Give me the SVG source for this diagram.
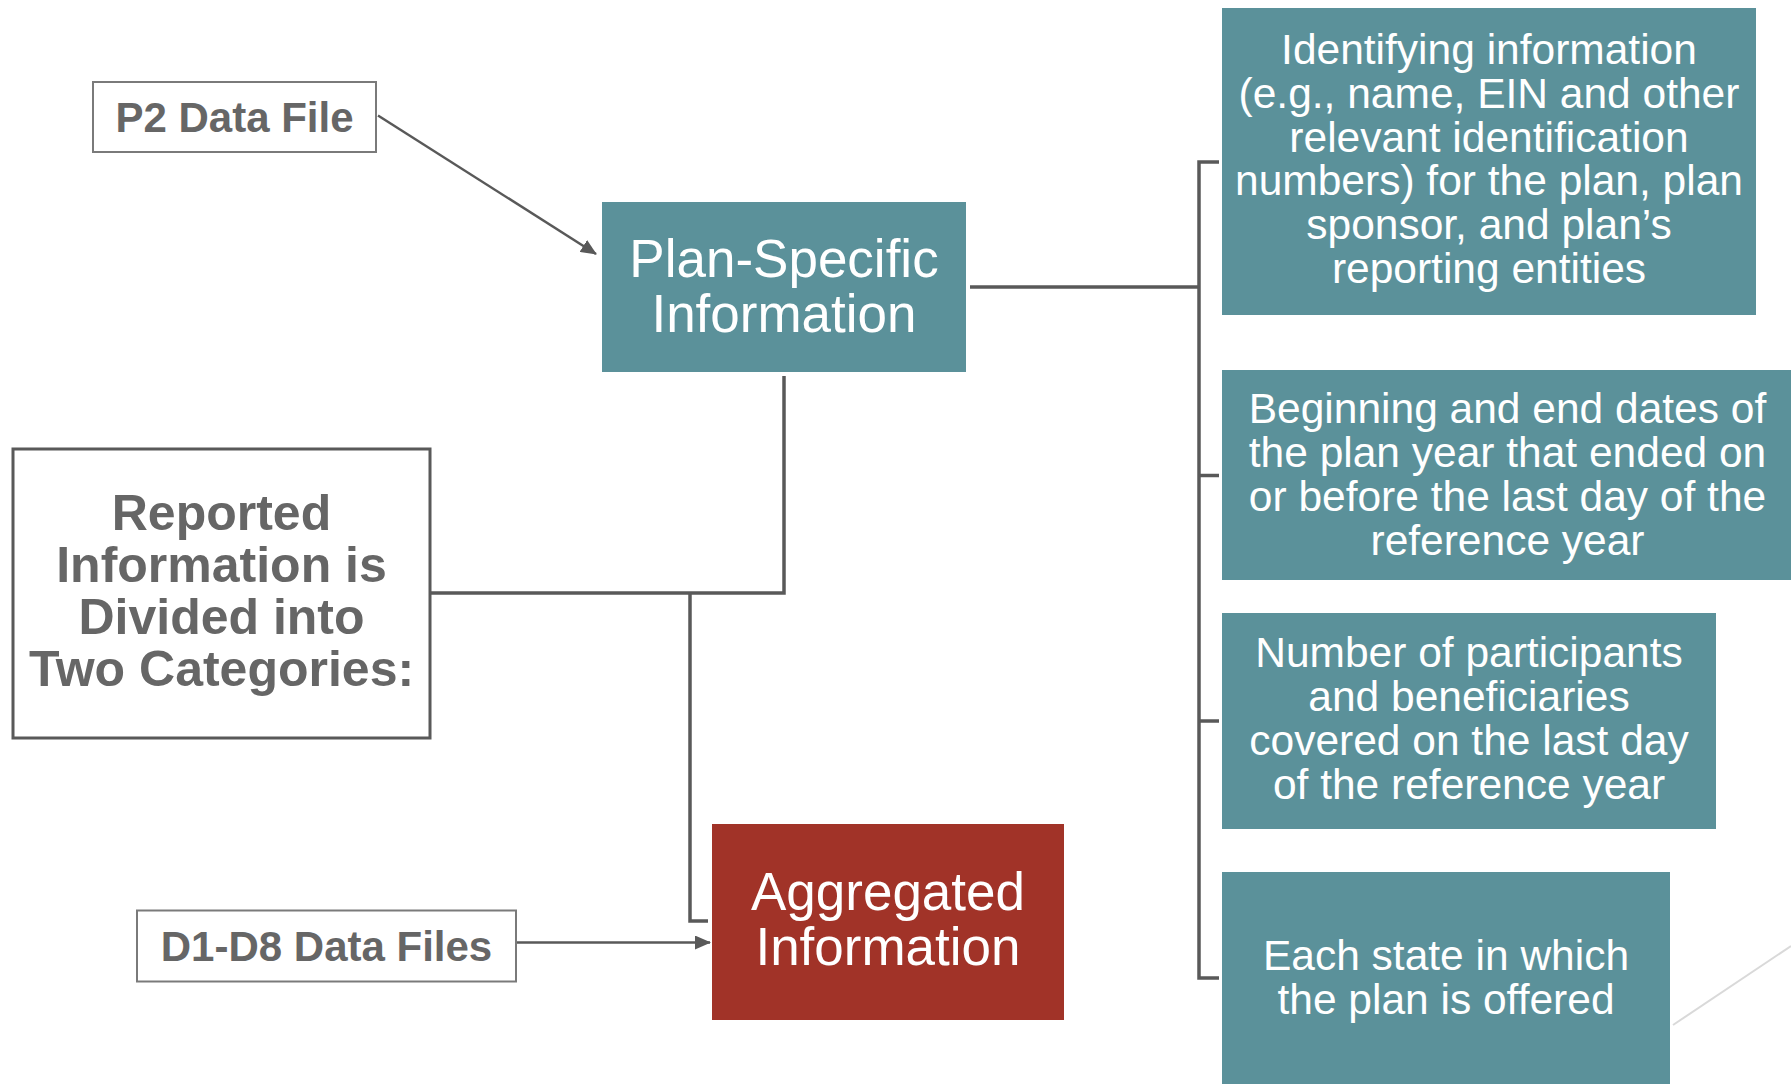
<svg xmlns="http://www.w3.org/2000/svg" width="1791" height="1084" viewBox="0 0 1791 1084">
<style>
  .teal { fill: #5B919A; }
  .red { fill: #A13328; }
  .frame { fill: #ffffff; stroke: #7a7a7a; stroke-width: 2; }
  .frame2 { fill: #ffffff; stroke: #595959; stroke-width: 3; }
  .conn { fill: none; stroke: #595959; stroke-width: 3.5; }
  .arrow { fill: none; stroke: #595959; stroke-width: 2.5; }
  .wt { font-family: "Liberation Sans", Arial, sans-serif; fill: #ffffff; text-anchor: middle; }
  .gt { font-family: "Liberation Sans", Arial, sans-serif; fill: #666666; font-weight: bold; text-anchor: middle; }
  .big { font-size: 53px; }
  .mid { font-size: 42.5px; }
</style>
<defs>
  <marker id="ah" markerUnits="userSpaceOnUse" markerWidth="16" markerHeight="14" refX="15" refY="7" orient="auto">
    <path d="M0,0 L16,7 L0,14 z" fill="#595959"/>
  </marker>
</defs>
<rect width="1791" height="1084" fill="#ffffff"/>

<g id="connectors">
  <line class="arrow" x1="378" y1="115.5" x2="596" y2="254" marker-end="url(#ah)"/>
  <line class="arrow" x1="517" y1="942.5" x2="710" y2="942.5" marker-end="url(#ah)"/>
  <path class="conn" d="M430,593 H784 V376"/>
  <path class="conn" d="M690,593 V921 H708"/>
  <path class="conn" d="M970,287 H1199"/>
  <path class="conn" d="M1219,162 H1199 V978 H1219"/>
  <path class="conn" d="M1199,475.5 H1219"/>
  <path class="conn" d="M1199,721 H1219"/>
  <line x1="1673" y1="1025" x2="1791" y2="946" stroke="#d9d9d9" stroke-width="2"/>
</g>

<g id="p2-data-file">
  <rect class="frame" x="93" y="82" width="283" height="70"/>
  <text class="gt" x="234.5" y="132" font-size="42">P2 Data File</text>
</g>

<g id="plan-specific">
  <rect class="teal" x="602" y="202" width="364" height="170"/>
  <text class="wt big" x="784" y="277">Plan-Specific</text>
  <text class="wt big" x="784" y="332">Information</text>
</g>

<g id="reported">
  <rect class="frame2" x="13" y="449" width="417" height="289"/>
  <text class="gt" x="221.5" y="530" font-size="50">Reported</text>
  <text class="gt" x="221.5" y="582" font-size="50">Information is</text>
  <text class="gt" x="221.5" y="634" font-size="50">Divided into</text>
  <text class="gt" x="221.5" y="686" font-size="50">Two Categories:</text>
</g>

<g id="d1-d8-data-files">
  <rect class="frame" x="137" y="910.5" width="379" height="71"/>
  <text class="gt" x="326.5" y="961" font-size="42">D1-D8 Data Files</text>
</g>

<g id="aggregated">
  <rect class="red" x="712" y="824" width="352" height="196"/>
  <text class="wt big" x="888" y="910">Aggregated</text>
  <text class="wt big" x="888" y="965">Information</text>
</g>

<g id="identifying">
  <rect class="teal" x="1222" y="8" width="534" height="307"/>
  <text class="wt mid" x="1489" y="64">Identifying information</text>
  <text class="wt mid" x="1489" y="108">(e.g., name, EIN and other</text>
  <text class="wt mid" x="1489" y="152">relevant identification</text>
  <text class="wt mid" x="1489" y="195">numbers) for the plan, plan</text>
  <text class="wt mid" x="1489" y="239">sponsor, and plan’s</text>
  <text class="wt mid" x="1489" y="283">reporting entities</text>
</g>

<g id="dates">
  <rect class="teal" x="1222" y="370" width="571" height="210"/>
  <text class="wt mid" x="1507.5" y="423">Beginning and end dates of</text>
  <text class="wt mid" x="1507.5" y="467">the plan year that ended on</text>
  <text class="wt mid" x="1507.5" y="511">or before the last day of the</text>
  <text class="wt mid" x="1507.5" y="555">reference year</text>
</g>

<g id="participants">
  <rect class="teal" x="1222" y="613" width="494" height="216"/>
  <text class="wt mid" x="1469" y="667">Number of participants</text>
  <text class="wt mid" x="1469" y="711">and beneficiaries</text>
  <text class="wt mid" x="1469" y="755">covered on the last day</text>
  <text class="wt mid" x="1469" y="799">of the reference year</text>
</g>

<g id="states">
  <rect class="teal" x="1222" y="872" width="448" height="214"/>
  <text class="wt mid" x="1446" y="970">Each state in which</text>
  <text class="wt mid" x="1446" y="1014">the plan is offered</text>
</g>
</svg>
